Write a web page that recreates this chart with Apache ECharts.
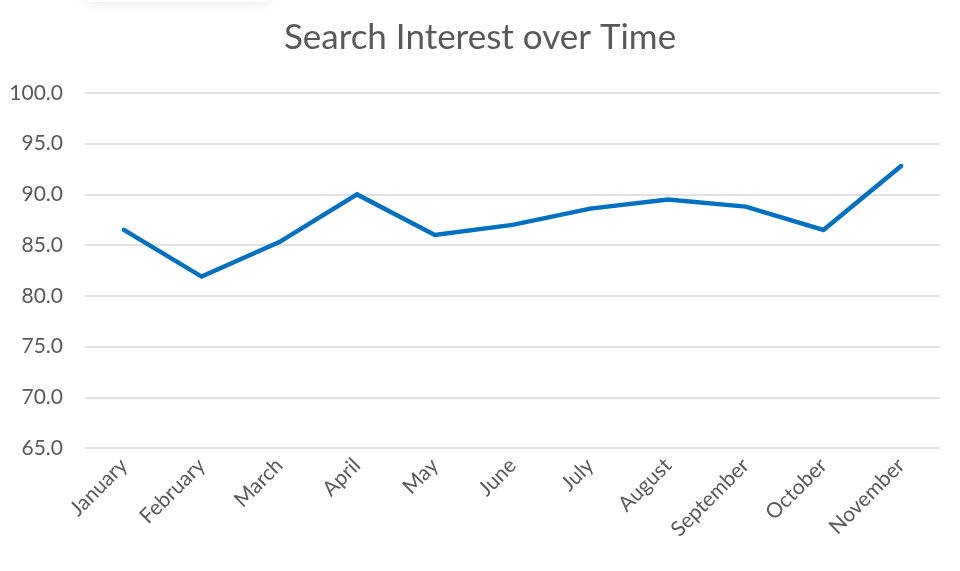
<!DOCTYPE html>
<html>
<head>
<meta charset="utf-8">
<title>Search Interest over Time</title>
<script src="https://cdn.jsdelivr.net/npm/echarts@6/dist/echarts.min.js"></script>
<style>
    html, body { margin: 0; padding: 0; background: #fff; }
    #chart { width: 960px; height: 571px; }
</style>
</head>
<body>
<div id="chart"></div>
<script>
'use strict';

const months = ['January', 'February', 'March', 'April', 'May', 'June',
    'July', 'August', 'September', 'October', 'November'];
const interest = [86.5, 81.9, 85.3, 90.0, 86.0, 87.0, 88.6, 89.5, 88.8, 86.5, 92.8];
const yTicks = {min: 65, max: 100, step: 5};

const textColor = '#595959';
const fontFamily = 'Lato, "Open Sans", sans-serif';

const chart = echarts.init(document.getElementById('chart'));

chart.setOption({
    animation: false,
    title: {
        text: 'Search Interest over Time',
        left: 'center',
        top: 15,
        textStyle: {color: textColor, fontSize: 35, fontWeight: 'normal', fontFamily}
    },
    // faint shadow strip at the top left, as in the reference
    graphic: [{
        type: 'rect',
        shape: {x: 85, y: -30, width: 185, height: 32, r: 6},
        style: {fill: '#fff', shadowColor: 'rgba(0,0,0,0.10)', shadowBlur: 14}
    }],
    grid: {left: 85, right: 20, top: 93, bottom: 123, containLabel: false},
    xAxis: {
        type: 'category',
        data: months,
        boundaryGap: true,
        axisLine: {show: false},
        axisTick: {show: false},
        axisLabel: {
            rotate: 45,
            margin: 14,
            color: textColor,
            fontSize: 21,
            fontFamily,
            interval: 0
        }
    },
    yAxis: {
        type: 'value',
        min: yTicks.min,
        max: yTicks.max,
        interval: yTicks.step,
        axisLine: {show: false},
        axisTick: {show: false},
        axisLabel: {
            color: textColor,
            fontSize: 21,
            fontFamily,
            margin: 22,
            formatter: v => v.toFixed(1)
        },
        splitLine: {lineStyle: {color: '#d9d9d9', width: 1.5}}
    },
    series: [{
        type: 'line',
        data: interest,
        symbol: 'none',
        lineStyle: {color: '#0070C0', width: 4.5, cap: 'round', join: 'miter'}
    }]
});
</script>
</body>
</html>
